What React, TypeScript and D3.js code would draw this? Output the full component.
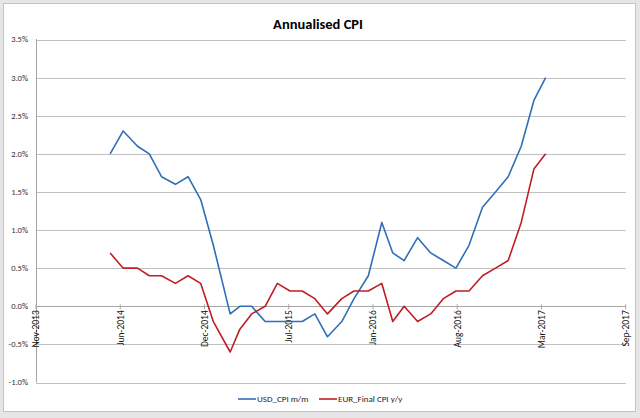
import React from 'react';
import * as d3 from 'd3';

// release dates of each monthly print
const dates = [
  '2014-05-15', '2014-06-15', '2014-07-19', '2014-08-16', '2014-09-14', '2014-10-17',
  '2014-11-16', '2014-12-16', '2015-01-15', '2015-02-24', '2015-03-19', '2015-04-16',
  '2015-05-18', '2015-06-16', '2015-07-16', '2015-08-14', '2015-09-13', '2015-10-13',
  '2015-11-16', '2015-12-15', '2016-01-18', '2016-02-19', '2016-03-16', '2016-04-12',
  '2016-05-14', '2016-06-14', '2016-07-14', '2016-08-13', '2016-09-13', '2016-10-15',
  '2016-11-15', '2016-12-15', '2017-01-15', '2017-02-14', '2017-03-14',
];
const usdCpi = [
  2.0, 2.3, 2.1, 2.0, 1.7, 1.6, 1.7, 1.4, 0.8, -0.1, 0.0, 0.0,
  -0.2, -0.2, -0.2, -0.2, -0.1, -0.4, -0.2, 0.1, 0.4, 1.1, 0.7, 0.6,
  0.9, 0.7, 0.6, 0.5, 0.8, 1.3, 1.5, 1.7, 2.1, 2.7, 3.0,
];
const eurCpi = [
  0.7, 0.5, 0.5, 0.4, 0.4, 0.3, 0.4, 0.3, -0.2, -0.6, -0.3, -0.1,
  0.0, 0.3, 0.2, 0.2, 0.1, -0.1, 0.1, 0.2, 0.2, 0.3, -0.2, 0.0,
  -0.2, -0.1, 0.1, 0.2, 0.2, 0.4, 0.5, 0.6, 1.1, 1.8, 2.0,
];
const yTicks = [-1.0, -0.5, 0.0, 0.5, 1.0, 1.5, 2.0, 2.5, 3.0, 3.5];
const axisStart = '2013-11-20';
const tickStepDays = 200;
const tickCount = 8;

const series = [
  { name: 'USD_CPI m/m', values: usdCpi, color: '#2f6fb8' },
  { name: 'EUR_Final CPI y/y', values: eurCpi, color: '#bf1e24' },
];

const W = 640;
const H = 418;
const font = 'Calibri, Carlito, "Liberation Sans", Arial, sans-serif';

export default function App() {
  const parse = d3.utcParse('%Y-%m-%d');
  const start = parse(axisStart)!;
  const xTicks = d3.range(tickCount).map(k => d3.utcDay.offset(start, k * tickStepDays));
  const x = d3.scaleUtc()
    .domain([start, xTicks[xTicks.length - 1]])
    .range([36, 625.7]);
  const y = d3.scaleLinear().domain([-1, 3.5]).range([382.5, 39.5]);
  const fmtX = d3.utcFormat('%b-%Y');
  const pts = dates.map(d => parse(d)!);

  const mkLine = (vals: number[]) =>
    d3.line<number>()
      .x((_, i) => x(pts[i]))
      .y(v => y(v))(vals) ?? '';

  const y0 = y(0);

  return (
    <svg
      width={W}
      height={H}
      style={{ position: 'absolute', left: 0, top: 0, display: 'block', background: '#e6e6e6' }}
    >
      <rect x={3.5} y={3.5} width={632} height={408} fill="#fff" stroke="#c4c4c4" />
      <text
        x={318}
        y={29}
        textAnchor="middle"
        fontFamily={font}
        fontWeight="bold"
        fontSize={14.5}
        fill="#000"
      >
        Annualised CPI
      </text>

      {yTicks.map(t => (
        <g key={t}>
          <line x1={36} x2={625.7} y1={Math.round(y(t)) + 0.5} y2={Math.round(y(t)) + 0.5} stroke="#c0c0c0" />
          <text
            x={28}
            y={y(t)}
            dy="0.35em"
            textAnchor="end"
            fontFamily={font}
            fontSize={8.5}
            fill="#333"
          >
            {`${t.toFixed(1)}%`}
          </text>
        </g>
      ))}
      <line x1={36.5} x2={36.5} y1={39} y2={382.5} stroke="#a6a6a6" />
      <line x1={36} x2={625.7} y1={Math.round(y0) + 0.5} y2={Math.round(y0) + 0.5} stroke="#a6a6a6" />

      {xTicks.map((t, i) => (
        <g key={i} transform={`translate(${x(t)},${y0})`}>
          <line y1={-2} y2={3} stroke="#a6a6a6" />
          <text
            transform="rotate(-90)"
            x={-4}
            dy="0.35em"
            textAnchor="end"
            fontFamily={font}
            fontSize={9.5}
            fill="#111"
          >
            {fmtX(t)}
          </text>
        </g>
      ))}

      {series.map(s => (
        <path
          key={s.name}
          d={mkLine(s.values)}
          fill="none"
          stroke={s.color}
          strokeWidth={1.6}
          strokeLinejoin="round"
        />
      ))}

      <g fontFamily={font} fontSize={9} fill="#222">
        <line x1={238} x2={256} y1={399} y2={399} stroke={series[0].color} strokeWidth={1.6} />
        <text x={257} y={399} dy="0.35em">{series[0].name}</text>
        <line x1={319} x2={337} y1={399} y2={399} stroke={series[1].color} strokeWidth={1.6} />
        <text x={338} y={399} dy="0.35em">{series[1].name}</text>
      </g>
    </svg>
  );
}
